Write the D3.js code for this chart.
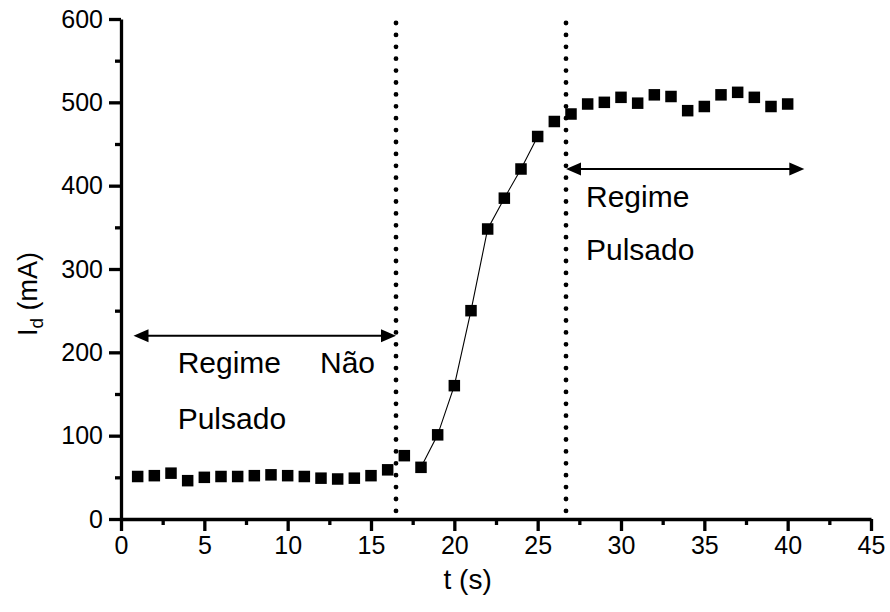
<!DOCTYPE html>
<html>
<head>
<meta charset="utf-8">
<script src="https://cdn.jsdelivr.net/npm/d3@7"></script>
<style>
  html, body { margin: 0; padding: 0; background: #fff; }
  svg { display: block; font-family: "Liberation Sans", Arial, Helvetica, sans-serif; }
</style>
</head>
<body>
<svg id="chart" width="890" height="612"></svg>
<script>
// ---- data ----
const times = [1,2,3,4,5,6,7,8,9,10,11,12,13,14,15,16,17,18,19,20,
               21,22,23,24,25,26,27,28,29,30,31,32,33,34,35,36,37,38,39,40];
const currents = [51,52,55,46,50,51,51,52,53,52,51,49,48,49,52,59,76,62,101,160,
                  250,348,385,420,459,477,486,498,500,506,499,509,507,490,495,509,512,506,495,498];
const lineTimes = [18,19,20,21,22,23,24,25];          // points joined by the thin line
const xTicks = [0,5,10,15,20,25,30,35,40,45];
const yTicks = [0,100,200,300,400,500,600];
const regimeBounds = [16.5, 26.7];                      // dotted vertical lines
const arrowLeft = {from: 0.75, to: 16.5, level: 220};
const arrowRight = {from: 26.7, to: 41, level: 420};

// ---- scales ----
const svg = d3.select("#chart");
const x = d3.scaleLinear().domain([0, 45]).range([121, 871]);
const y = d3.scaleLinear().domain([0, 600]).range([519, 19]);

// ---- axes ----
const tickFont = 25;
const gx = svg.append("g").attr("transform", `translate(0,${y(0)})`)
  .call(d3.axisBottom(x).tickValues(xTicks).tickSize(12).tickSizeOuter(0).tickPadding(5));
const gxMinor = svg.append("g").attr("transform", `translate(0,${y(0)})`)
  .call(d3.axisBottom(x).tickValues(xTicks.slice(0, -1).map(d => d + 2.5)).tickSize(6).tickFormat(""));
const gy = svg.append("g").attr("transform", `translate(${x(0)},0)`)
  .call(d3.axisLeft(y).tickValues(yTicks).tickSize(12).tickSizeOuter(0).tickPadding(6));
const gyMinor = svg.append("g").attr("transform", `translate(${x(0)},0)`)
  .call(d3.axisLeft(y).tickValues(yTicks.slice(0, -1).map(d => d + 50)).tickSize(6).tickFormat(""));

[gx, gxMinor, gy, gyMinor].forEach(g => {
  g.selectAll("path.domain").attr("stroke", "#000").attr("stroke-width", 3.3);
  g.selectAll(".tick line").attr("stroke", "#000").attr("stroke-width", 3.3);
  g.selectAll("text").attr("fill", "#000").attr("font-size", tickFont)
    .attr("font-family", "'Liberation Sans', Arial, sans-serif");
});
gxMinor.select("path.domain").remove();
gyMinor.select("path.domain").remove();

// axis titles
svg.append("text")
  .attr("x", x(20.8)).attr("y", 589)
  .attr("text-anchor", "middle").attr("font-size", 28).attr("fill", "#000")
  .text("t (s)");

const yl = svg.append("text")
  .attr("transform", `translate(37,${y(270)}) rotate(-90)`)
  .attr("text-anchor", "middle").attr("font-size", 27).attr("fill", "#000");
yl.append("tspan").text("I");
yl.append("tspan").attr("font-size", 19).attr("dy", 6).text("d");
yl.append("tspan").attr("dy", -6).text(" (mA)");

// ---- dotted vertical lines ----
svg.selectAll("line.bound").data(regimeBounds).join("line")
  .attr("class", "bound")
  .attr("x1", d => x(d)).attr("x2", d => x(d))
  .attr("y1", y(600) + 4).attr("y2", y(0))
  .attr("stroke", "#000").attr("stroke-width", 4.8)
  .attr("stroke-linecap", "round").attr("stroke-dasharray", "0,11.9");

// ---- connecting line ----
const pts = times.map((t, i) => ({t, v: currents[i]}));
const linePts = pts.filter(p => lineTimes.includes(p.t));
svg.append("path").datum(linePts)
  .attr("fill", "none").attr("stroke", "#000").attr("stroke-width", 1.1)
  .attr("d", d3.line().x(p => x(p.t)).y(p => y(p.v)));

// ---- markers ----
const ms = 11.5;
svg.selectAll("rect.pt").data(pts).join("rect")
  .attr("class", "pt")
  .attr("x", p => x(p.t) - ms / 2).attr("y", p => y(p.v) - ms / 2)
  .attr("width", ms).attr("height", ms).attr("fill", "#000");

// ---- double arrows ----
function doubleArrow(a) {
  const x1 = x(a.from), x2 = x(a.to), yy = y(a.level);
  const L = 15, H = 6.5;
  svg.append("line").attr("x1", x1 + L - 2).attr("x2", x2 - L + 2)
    .attr("y1", yy).attr("y2", yy).attr("stroke", "#000").attr("stroke-width", 2);
  svg.append("path").attr("fill", "#000")
    .attr("d", `M${x1},${yy} L${x1 + L},${yy - H} L${x1 + L},${yy + H} Z`);
  svg.append("path").attr("fill", "#000")
    .attr("d", `M${x2},${yy} L${x2 - L},${yy - H} L${x2 - L},${yy + H} Z`);
}
doubleArrow(arrowLeft);
doubleArrow(arrowRight);

// ---- annotation texts ----
const annFont = 30;
const ann = [
  {t: 3.4, v: 175.2, s: "Regime"},
  {t: 11.94, v: 175.2, s: "Não"},
  {t: 3.4, v: 108, s: "Pulsado"},
  {t: 27.9, v: 374.4, s: "Regime"},
  {t: 27.9, v: 310.8, s: "Pulsado"}
];
svg.selectAll("text.ann").data(ann).join("text")
  .attr("class", "ann")
  .attr("x", d => x(d.t)).attr("y", d => y(d.v))
  .attr("font-size", annFont).attr("fill", "#000")
  .text(d => d.s);
</script>
</body>
</html>
